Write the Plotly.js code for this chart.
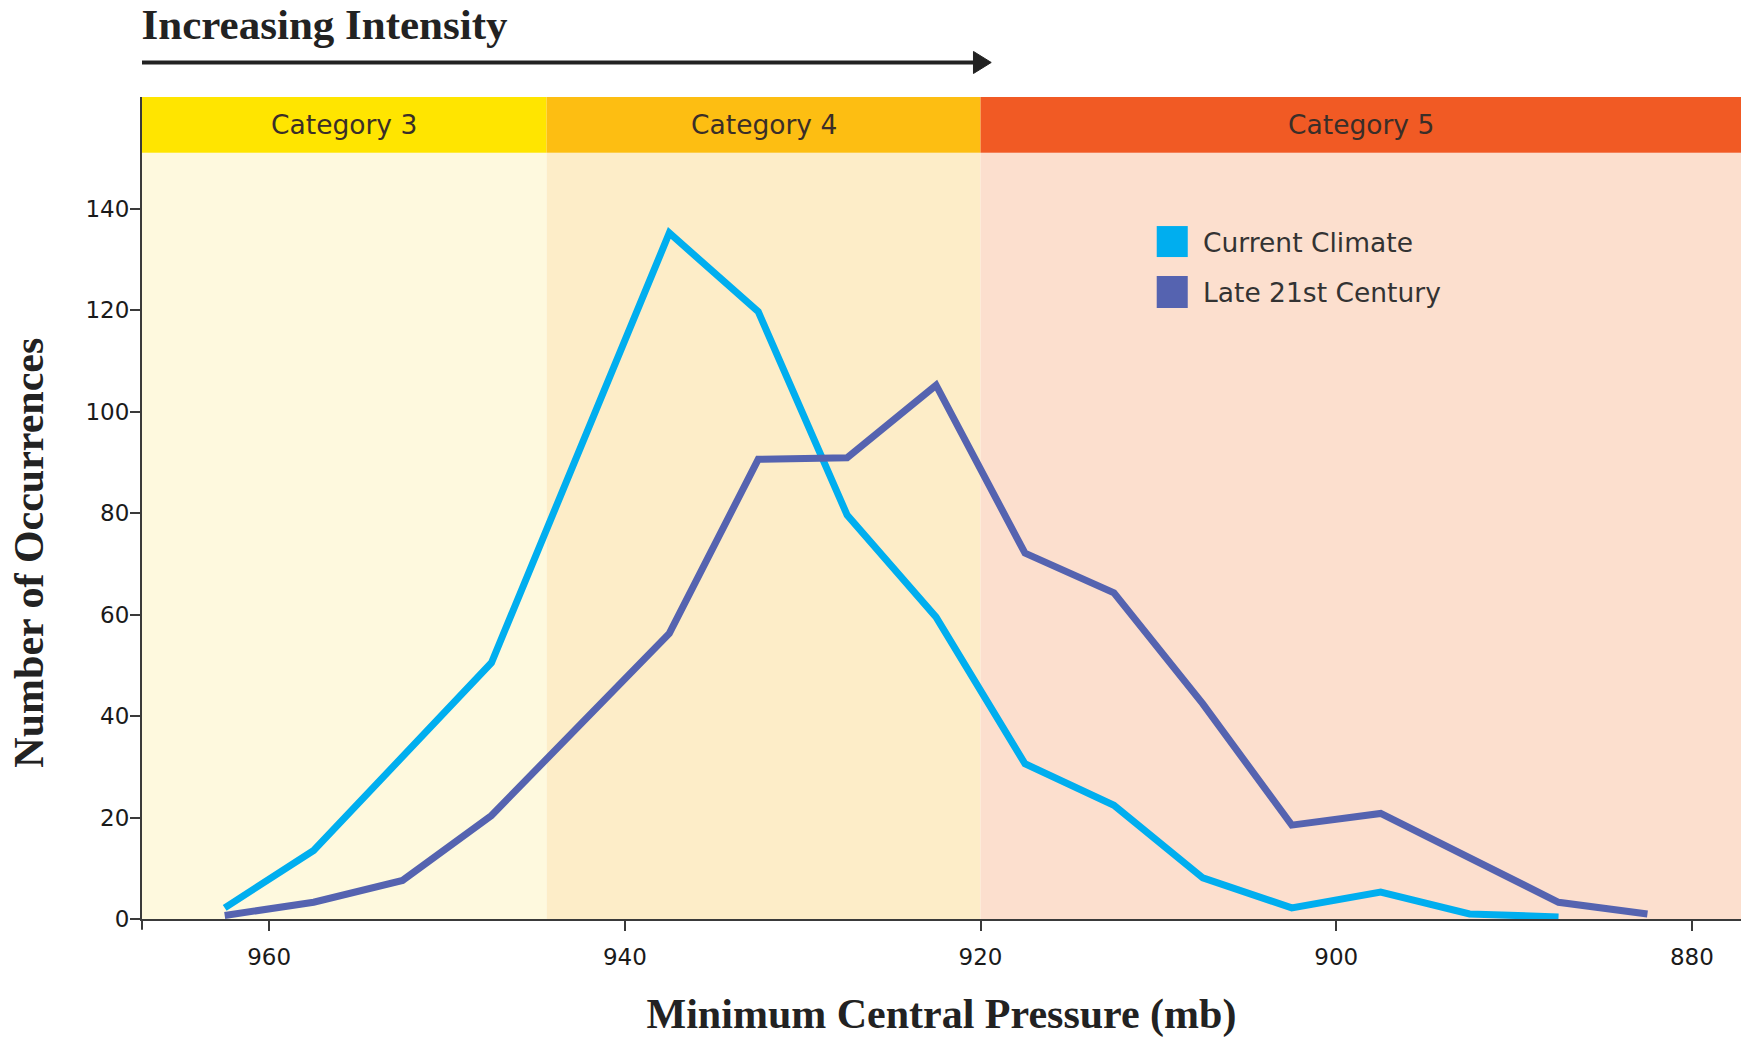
<!DOCTYPE html>
<html>
<head>
<meta charset="utf-8">
<script src="https://cdn.plot.ly/plotly-3.0.1.min.js"></script>
<style>
  html, body { margin: 0; padding: 0; background: #ffffff; }
  #chart { width: 1748px; height: 1038px; }
</style>
</head>
<body>
<div id="chart"></div>
<script>
// ---- Data ----
const seriesNames = ["Current Climate", "Late 21st Century"];
const seriesColors = ["#00AEEF", "#5563B0"];

const currentPressure = [962.5, 957.5, 947.5, 937.5, 932.5, 927.5, 922.5, 917.5, 912.5, 907.5, 902.5, 897.5, 892.5, 887.5];
const currentCounts   = [2.2, 13.5, 50.5, 135.2, 119.7, 79.6, 59.5, 30.6, 22.4, 8.1, 2.2, 5.3, 1.0, 0.4];

const latePressure = [962.5, 957.5, 952.5, 947.5, 937.5, 932.5, 927.5, 922.5, 917.5, 912.5, 907.5, 902.5, 897.5, 887.5, 882.5];
const lateCounts   = [0.7, 3.3, 7.6, 20.4, 56.3, 90.6, 90.9, 105.2, 72.1, 64.3, 42.4, 18.5, 20.8, 3.3, 1.0];

const xTickVals = [960, 940, 920, 900, 880];
const yTickVals = [0, 20, 40, 60, 80, 100, 120, 140];

const xRange = [967.15, 877.24];
const yRange = [0, 162];

const categoryNames  = ["Category 3", "Category 4", "Category 5"];
const categoryBounds = [xRange[0], 944.4, 920, xRange[1]];
const categoryStrong = ["#FFE500", "#FDBE12", "#F15A24"];
const categoryLight  = ["#FEF9DE", "#FDEDC8", "#FCDFCE"];

// ---- Build traces ----
const traces = [
  {
    type: "scatter", mode: "lines", name: seriesNames[0],
    x: currentPressure, y: currentCounts,
    line: { color: seriesColors[0], width: 7 },
    showlegend: false, hoverinfo: "skip"
  },
  {
    type: "scatter", mode: "lines", name: seriesNames[1],
    x: latePressure, y: lateCounts,
    line: { color: seriesColors[1], width: 7 },
    showlegend: false, hoverinfo: "skip"
  }
];

const bandBottom = 0.9322;
const shapes = [];
const annotations = [];

for (let i = 0; i < categoryNames.length; i++) {
  shapes.push({
    type: "rect", layer: "below", xref: "x", yref: "paper",
    x0: categoryBounds[i], x1: categoryBounds[i + 1], y0: 0, y1: bandBottom,
    fillcolor: categoryLight[i], line: { width: 0 }
  });
  shapes.push({
    type: "rect", layer: "below", xref: "x", yref: "paper",
    x0: categoryBounds[i], x1: categoryBounds[i + 1], y0: bandBottom, y1: 1,
    fillcolor: categoryStrong[i], line: { width: 0 }
  });
  annotations.push({
    xref: "x", yref: "paper",
    x: (categoryBounds[i] + categoryBounds[i + 1]) / 2, y: (bandBottom + 1) / 2,
    text: categoryNames[i], showarrow: false,
    xanchor: "center", yanchor: "middle",
    font: { family: "DejaVu Sans", size: 26.5, color: "#3a2e28" }
  });
}

// manual legend (square swatches)
const legendRows = [
  { y0: 0.8053, y1: 0.8430, ty: 0.8236 },
  { y0: 0.7432, y1: 0.7822, ty: 0.7627 }
];
for (let i = 0; i < seriesNames.length; i++) {
  shapes.push({
    type: "rect", xref: "paper", yref: "paper",
    x0: 0.6346, x1: 0.6540, y0: legendRows[i].y0, y1: legendRows[i].y1,
    fillcolor: seriesColors[i], line: { width: 0 }
  });
  annotations.push({
    xref: "paper", yref: "paper", x: 0.6622, y: legendRows[i].ty,
    text: seriesNames[i], showarrow: false, xanchor: "left", yanchor: "middle",
    font: { family: "DejaVu Sans", size: 26.5, color: "#333333" }
  });
}

// "Increasing Intensity" arrow
shapes.push({
  type: "line", xref: "paper", yref: "paper",
  x0: 0, x1: 0.5215, y0: 1.042, y1: 1.042,
  line: { color: "#222222", width: 4 }
});
shapes.push({
  type: "path", xref: "paper", yref: "paper",
  path: "M 0.5200 1.0554 L 0.5311 1.042 L 0.5200 1.0286 Z",
  fillcolor: "#222222", line: { color: "#222222", width: 1 }
});

// y-axis extension below the x axis
shapes.push({
  type: "line", xref: "paper", yref: "paper",
  x0: 0, x1: 0, y0: 0, y1: -0.013,
  line: { color: "#3a3a3a", width: 2 }
});

// y axis title
annotations.push({
  xref: "paper", yref: "paper", x: -0.0704, y: 0.4462,
  text: "<b>Number of Occurrences</b>", showarrow: false, textangle: -90,
  xanchor: "center", yanchor: "middle",
  font: { family: "Liberation Serif", size: 42, color: "#222222" }
});

const layout = {
  width: 1748, height: 1038,
  margin: { l: 142, r: 7, t: 97, b: 119, pad: 0 },
  paper_bgcolor: "#ffffff",
  plot_bgcolor: "#ffffff",
  title: {
    text: "<b>Increasing Intensity</b>",
    xref: "container", yref: "container",
    x: 0.081, xanchor: "left", y: 0.9913, yanchor: "top",
    font: { family: "Liberation Serif", size: 43, color: "#222222" }
  },
  xaxis: {
    range: xRange,
    tickvals: xTickVals,
    ticktext: xTickVals.map(String),
    ticks: "outside", ticklen: 10, tickwidth: 2, tickcolor: "#3a3a3a",
    ticklabelstandoff: 6,
    showline: true, linecolor: "#3a3a3a", linewidth: 2,
    showgrid: false, zeroline: false,
    tickfont: { family: "DejaVu Sans", size: 23, color: "#1a1a1a" },
    title: {
      text: "<b>Minimum Central Pressure (mb)</b>",
      standoff: 45,
      font: { family: "Liberation Serif", size: 42, color: "#222222" }
    }
  },
  yaxis: {
    range: yRange,
    tickvals: yTickVals,
    ticktext: yTickVals.map(String),
    ticks: "outside", ticklen: 10, tickwidth: 2, tickcolor: "#3a3a3a",
    ticklabelstandoff: -4,
    showline: true, linecolor: "#3a3a3a", linewidth: 2,
    showgrid: false, zeroline: false,
    tickfont: { family: "DejaVu Sans", size: 23, color: "#1a1a1a" }
  },
  shapes: shapes,
  annotations: annotations,
  showlegend: false
};

Plotly.newPlot("chart", traces, layout, { displayModeBar: false, staticPlot: true });
</script>
</body>
</html>
